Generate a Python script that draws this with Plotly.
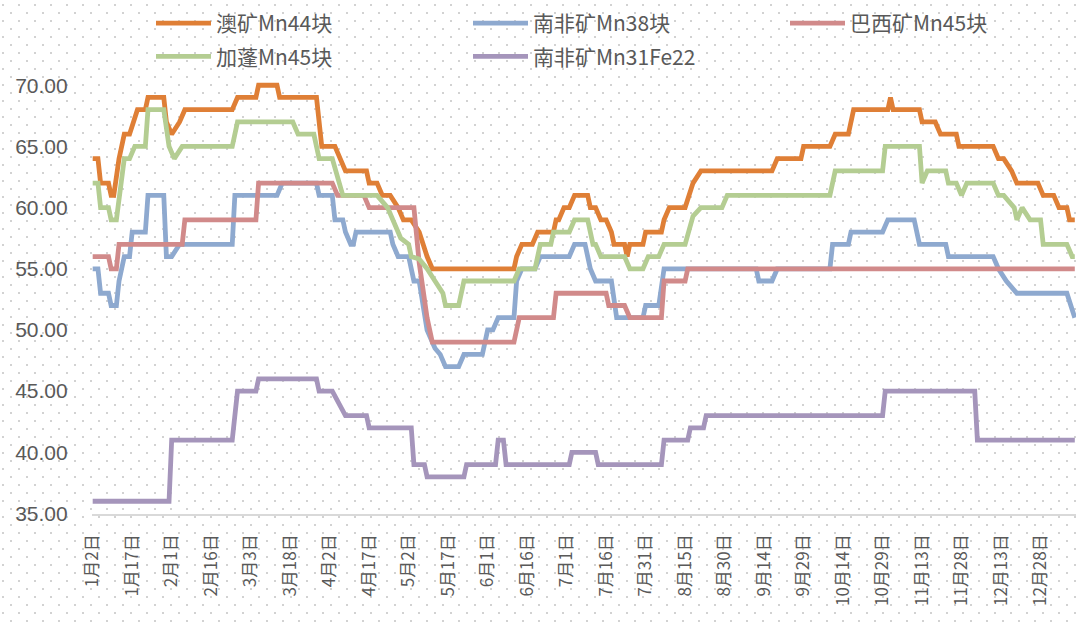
import base64
import plotly.graph_objects as go

# ---------------- data ----------------
au_dates = ["2023-01-02", "2023-01-04", "2023-01-05", "2023-01-08", "2023-01-09", "2023-01-10", "2023-01-12",
            "2023-01-13", "2023-01-14", "2023-01-16", "2023-01-19", "2023-01-22", "2023-01-23", "2023-01-29",
            "2023-01-30", "2023-02-01", "2023-02-04", "2023-02-06", "2023-02-24", "2023-02-26", "2023-03-05",
            "2023-03-06", "2023-03-13", "2023-03-14", "2023-03-28", "2023-03-30", "2023-04-04", "2023-04-08",
            "2023-04-16", "2023-04-17", "2023-04-20", "2023-04-22", "2023-04-25", "2023-04-28", "2023-04-30",
            "2023-05-03", "2023-05-06", "2023-05-09", "2023-05-11", "2023-06-11", "2023-06-12", "2023-06-14",
            "2023-06-18", "2023-06-20", "2023-06-26", "2023-06-27", "2023-06-28", "2023-06-30", "2023-07-02",
            "2023-07-04", "2023-07-09", "2023-07-10", "2023-07-12", "2023-07-14", "2023-07-16", "2023-07-18",
            "2023-07-19", "2023-07-23", "2023-07-24", "2023-07-25", "2023-07-30", "2023-07-31", "2023-08-06",
            "2023-08-07", "2023-08-09", "2023-08-15", "2023-08-18", "2023-08-21", "2023-09-17", "2023-09-19",
            "2023-09-28", "2023-09-29", "2023-10-09", "2023-10-11", "2023-10-16", "2023-10-18", "2023-10-31",
            "2023-11-01", "2023-11-02", "2023-11-12", "2023-11-13", "2023-11-18", "2023-11-20", "2023-11-26",
            "2023-11-27", "2023-12-10", "2023-12-12", "2023-12-14", "2023-12-17", "2023-12-19", "2023-12-27",
            "2023-12-29", "2024-01-02", "2024-01-04", "2024-01-07", "2024-01-08", "2024-01-10"]
au_vals = [64, 64, 62, 62, 61, 61, 64,
           65, 66, 66, 68, 68, 69, 69,
           67, 66, 67, 68, 68, 69, 69,
           70, 70, 69, 69, 65, 65, 63,
           63, 62, 62, 61, 61, 60, 59,
           59, 58, 56, 55, 55, 56, 57,
           57, 58, 58, 59, 59, 60, 60,
           61, 61, 60, 60, 59, 59, 58,
           57, 57, 56, 57, 57, 58, 58,
           59, 60, 60, 62, 63, 63, 64,
           64, 65, 65, 66, 66, 68, 68,
           69, 68, 68, 67, 67, 66, 66,
           65, 65, 64, 64, 63, 62, 62,
           61, 61, 60, 60, 59, 59]

za38_dates = ["2023-01-02", "2023-01-04", "2023-01-05", "2023-01-08", "2023-01-09", "2023-01-11", "2023-01-12",
              "2023-01-14", "2023-01-16", "2023-01-17", "2023-01-22", "2023-01-23", "2023-01-29", "2023-01-30",
              "2023-02-01", "2023-02-04", "2023-02-24", "2023-02-25", "2023-03-13", "2023-03-15", "2023-03-28",
              "2023-03-29", "2023-04-03", "2023-04-04", "2023-04-07", "2023-04-08", "2023-04-10", "2023-04-11",
              "2023-04-12", "2023-04-25", "2023-04-26", "2023-04-28", "2023-05-02", "2023-05-04", "2023-05-06",
              "2023-05-09", "2023-05-12", "2023-05-14", "2023-05-16", "2023-05-21", "2023-05-23", "2023-05-30",
              "2023-06-01", "2023-06-03", "2023-06-05", "2023-06-11", "2023-06-12", "2023-06-14", "2023-06-19",
              "2023-06-21", "2023-07-02", "2023-07-04", "2023-07-08", "2023-07-10", "2023-07-12", "2023-07-18",
              "2023-07-20", "2023-07-30", "2023-07-31", "2023-08-05", "2023-08-07", "2023-09-11", "2023-09-12",
              "2023-09-17", "2023-09-19", "2023-10-09", "2023-10-10", "2023-10-16", "2023-10-17", "2023-10-29",
              "2023-10-31", "2023-11-10", "2023-11-12", "2023-11-22", "2023-11-23", "2023-12-10", "2023-12-12",
              "2023-12-15", "2023-12-19", "2024-01-07", "2024-01-10"]
za38_vals = [55, 55, 53, 53, 52, 52, 54,
             56, 56, 58, 58, 61, 61, 56,
             56, 57, 57, 61, 61, 62, 62,
             61, 61, 59, 59, 58, 57, 57,
             58, 58, 57, 56, 56, 54, 54,
             50, 48.5, 48, 47, 47, 48, 48,
             50, 50, 51, 51, 54, 55, 55,
             56, 56, 57, 57, 55, 54, 54,
             51, 51, 52, 52, 55, 55, 54,
             54, 55, 55, 57, 57, 58, 58,
             59, 59, 57, 57, 56, 56, 55,
             54, 53, 53, 51]

br45_dates = ["2023-01-02", "2023-01-08", "2023-01-09", "2023-01-11", "2023-01-12", "2023-02-05", "2023-02-06",
              "2023-03-05", "2023-03-06", "2023-04-03", "2023-04-05", "2023-04-15", "2023-04-17", "2023-05-04",
              "2023-05-06", "2023-05-09", "2023-05-11", "2023-06-11", "2023-06-13", "2023-06-26", "2023-06-27",
              "2023-07-16", "2023-07-17", "2023-07-23", "2023-07-25", "2023-08-06", "2023-08-07", "2023-08-15",
              "2023-08-16", "2024-01-10"]
br45_vals = [56, 56, 55, 55, 57, 57, 59,
             59, 62, 62, 61, 61, 60, 60,
             55.5, 51, 49, 49, 51, 51, 53,
             53, 52, 52, 51, 51, 54, 54,
             55, 55]

ga45_dates = ["2023-01-02", "2023-01-04", "2023-01-05", "2023-01-08", "2023-01-09", "2023-01-11", "2023-01-14",
              "2023-01-16", "2023-01-18", "2023-01-22", "2023-01-23", "2023-01-29", "2023-01-31", "2023-02-02",
              "2023-02-05", "2023-02-24", "2023-02-26", "2023-03-19", "2023-03-21", "2023-03-27", "2023-03-29",
              "2023-04-03", "2023-04-07", "2023-04-20", "2023-04-24", "2023-04-26", "2023-04-29", "2023-05-02",
              "2023-05-03", "2023-05-06", "2023-05-09", "2023-05-12", "2023-05-15", "2023-05-16", "2023-05-21",
              "2023-05-23", "2023-06-11", "2023-06-13", "2023-06-19", "2023-06-21", "2023-06-25", "2023-06-26",
              "2023-07-02", "2023-07-04", "2023-07-09", "2023-07-11", "2023-07-12", "2023-07-14", "2023-07-23",
              "2023-07-25", "2023-07-30", "2023-08-01", "2023-08-05", "2023-08-07", "2023-08-15", "2023-08-18",
              "2023-08-21", "2023-08-29", "2023-08-31", "2023-10-09", "2023-10-11", "2023-10-29", "2023-10-30",
              "2023-11-12", "2023-11-13", "2023-11-15", "2023-11-22", "2023-11-23", "2023-11-26", "2023-11-28",
              "2023-11-30", "2023-12-10", "2023-12-12", "2023-12-14", "2023-12-18", "2023-12-19", "2023-12-21",
              "2023-12-24", "2023-12-28", "2023-12-29", "2024-01-07", "2024-01-09", "2024-01-10"]
ga45_vals = [62, 62, 60, 60, 59, 59, 64,
             64, 65, 65, 68, 68, 65, 64,
             65, 65, 67, 67, 66, 66, 64,
             64, 61, 61, 60, 59, 57.5, 57,
             56, 55.8, 55, 54, 53, 52, 52,
             54, 54, 55, 55, 57, 57, 58,
             58, 59, 59, 57, 57, 56, 56,
             55, 55, 56, 56, 57, 57, 59.3,
             60, 60, 61, 61, 63, 63, 65,
             65, 62, 63, 63, 62, 62, 61,
             62, 62, 61, 61, 60, 59, 60,
             59, 59, 57, 57, 56, 56]

za31_dates = ["2023-01-02", "2023-01-31", "2023-02-01", "2023-02-24", "2023-02-26", "2023-03-05", "2023-03-06",
              "2023-03-28", "2023-03-29", "2023-04-03", "2023-04-08", "2023-04-16", "2023-04-17", "2023-05-03",
              "2023-05-04", "2023-05-08", "2023-05-09", "2023-05-23", "2023-05-24", "2023-06-04", "2023-06-05",
              "2023-06-07", "2023-06-08", "2023-07-02", "2023-07-03", "2023-07-12", "2023-07-13", "2023-08-06",
              "2023-08-07", "2023-08-16", "2023-08-17", "2023-08-22", "2023-08-23", "2023-10-29", "2023-10-30",
              "2023-12-03", "2023-12-04", "2024-01-10"]
za31_vals = [36, 36, 41, 41, 45, 45, 46,
             46, 45, 45, 43, 43, 42, 42,
             39, 39, 38, 38, 39, 39, 41,
             41, 39, 39, 40, 40, 39, 39,
             41, 41, 42, 42, 43, 43, 45,
             45, 41, 41]

series_names = ["澳矿Mn44块", "南非矿Mn38块", "巴西矿Mn45块", "加蓬Mn45块", "南非矿Mn31Fe22"]
series_colors = ["#DF7F36", "#8EA9CF", "#D18A8A", "#B4CD92", "#A595BB"]

x_tick_dates = ["2023-01-02", "2023-01-17", "2023-02-01", "2023-02-16", "2023-03-03", "2023-03-18",
                "2023-04-02", "2023-04-17", "2023-05-02", "2023-05-17", "2023-06-01", "2023-06-16",
                "2023-07-01", "2023-07-16", "2023-07-31", "2023-08-15", "2023-08-30", "2023-09-14",
                "2023-09-29", "2023-10-14", "2023-10-29", "2023-11-13", "2023-11-28", "2023-12-13",
                "2023-12-28"]
x_tick_text = ["1月2日", "1月17日", "2月1日", "2月16日", "3月3日", "3月18日",
               "4月2日", "4月17日", "5月2日", "5月17日", "6月1日", "6月16日",
               "7月1日", "7月16日", "7月31日", "8月15日", "8月30日", "9月14日",
               "9月29日", "10月14日", "10月29日", "11月13日", "11月28日", "12月13日",
               "12月28日"]
y_tick_vals = [35, 40, 45, 50, 55, 60, 65, 70]

# ---------------- figure ----------------
W, H = 1076, 625
TEXT = "#595959"
CJK = "Noto Sans CJK SC, Liberation Sans, sans-serif"

all_series = [
    (au_dates, au_vals, "legend"),
    (za38_dates, za38_vals, "legend2"),
    (br45_dates, br45_vals, "legend3"),
    (ga45_dates, ga45_vals, "legend"),
    (za31_dates, za31_vals, "legend2"),
]

fig = go.Figure()
for i, (xs, ys, lg) in enumerate(all_series):
    fig.add_trace(go.Scatter(
        x=xs, y=ys, mode="lines", name=series_names[i],
        line=dict(color=series_colors[i], width=4.8, shape="linear"),
        legend=lg, legendgroup=f"g{i}",
    ))

# dotted background pattern (Excel style)
svg = (
    f"<svg xmlns='http://www.w3.org/2000/svg' width='{W}' height='{H}'>"
    "<defs><pattern id='p' width='16' height='16' patternUnits='userSpaceOnUse'>"
    "<rect x='2' y='4' width='2' height='2' fill='#D2D2D2'/>"
    "<rect x='10' y='12' width='2' height='2' fill='#D2D2D2'/>"
    "</pattern></defs>"
    f"<rect width='{W}' height='{H}' fill='url(#p)'/></svg>"
)
svg_uri = "data:image/svg+xml;base64," + base64.b64encode(svg.encode()).decode()

x_left_px = 91.7
y_bottom_px = 513.5
y_top_px = 73.0

leg_common = dict(
    orientation="v", xanchor="left", yanchor="top",
    font=dict(family=CJK, size=21, color=TEXT),
    bgcolor="rgba(0,0,0,0)", borderwidth=0,
    itemwidth=55, tracegroupgap=3,
)

fig.update_layout(
    width=W, height=H, autosize=False,
    margin=dict(l=0, r=0, t=0, b=0, pad=0, autoexpand=False),
    paper_bgcolor="white",
    plot_bgcolor="rgba(0,0,0,0)",
    font=dict(family=CJK, color=TEXT),
    showlegend=True,
    legend=dict(x=151 / W, y=1 - 3 / H, **leg_common),
    legend2=dict(x=468 / W, y=1 - 3 / H, **leg_common),
    legend3=dict(x=785 / W, y=1 - 3 / H, **leg_common),
    images=[dict(source=svg_uri, xref="paper", yref="paper", x=0, y=1,
                 sizex=1, sizey=1, xanchor="left", yanchor="top",
                 sizing="stretch", layer="below")],
    xaxis=dict(
        type="date", automargin=False,
        domain=[x_left_px / W, 1.0],
        range=["2023-01-01 15:00", "2024-01-10 11:00"],
        tickmode="array", tickvals=x_tick_dates, ticktext=x_tick_text,
        tickangle=-90, ticks="", ticklabelstandoff=12,
        tickfont=dict(family=CJK, size=17, color=TEXT),
        showgrid=False, zeroline=False,
        showline=True, linecolor="#D9D9D9", linewidth=2,
    ),
    yaxis=dict(
        automargin=False,
        domain=[(H - y_bottom_px) / H, (H - y_top_px) / H],
        range=[35, 71],
        tickmode="array", tickvals=y_tick_vals, tickformat=".2f",
        ticks="", ticklabelstandoff=23,
        tickfont=dict(family="Liberation Sans, sans-serif", size=21, color=TEXT),
        showgrid=False, zeroline=False, showline=False,
    ),
)

fig.write_html(
    "out.html",
    config={"displayModeBar": False},
    post_script="document.body.style.margin='0px';document.body.style.overflow='hidden';",
)
